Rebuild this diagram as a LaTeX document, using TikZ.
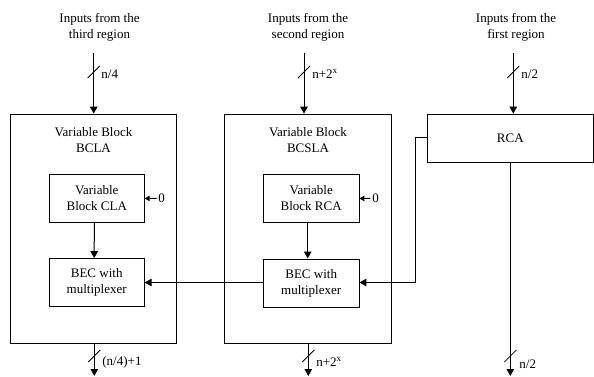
\documentclass[tikz,border=0pt]{standalone}
\usepackage{fontspec}
\setmainfont{Liberation Serif}
\usetikzlibrary{arrows.meta}
\begin{document}
\begin{tikzpicture}[x=1pt,y=-1pt,
  line width=0.8pt,
  every node/.style={font=\fontsize{13}{16}\selectfont},
  blk/.style={draw,line width=0.8pt,inner sep=0pt,align=center},
  txt/.style={align=center,inner sep=0pt},
  arr/.style={line width=1pt,-{Triangle[length=7pt,width=7.5pt]}},
  sarr/.style={line width=1pt,-{Triangle[length=5pt,width=5.5pt]}},
  bus/.style={inner sep=0pt,anchor=west}
]
\useasboundingbox (0,0) rectangle (594,376);
% outer boxes
\node[blk,minimum width=166pt,minimum height=229pt] (outL) at (93.7,228.5) {};
\node[blk,minimum width=167.4pt,minimum height=229pt] (outM) at (308,228.5) {};
\node[blk,minimum width=166pt,minimum height=48.3pt] (rca) at (510.3,138.2) {RCA};
% outer box titles
\node[txt] (tL) at (93.5,139.7) {Variable Block\\BCLA};
\node[txt] (tM) at (308,139.7) {Variable Block\\BCSLA};
% inner boxes
\node[blk,minimum width=95pt,minimum height=48.4pt] (cla) at (96.8,198.5) {Variable\\Block CLA};
\node[blk,minimum width=95.7pt,minimum height=48.4pt] (rcai) at (311.2,198.5) {Variable\\Block RCA};
\node[blk,minimum width=95pt,minimum height=48.2pt] (becL) at (96.7,282.6) {BEC with\\multiplexer};
\node[blk,minimum width=95.7pt,minimum height=48.2pt] (becM) at (311.2,283) {BEC with\\multiplexer};
% zero inputs
\node[txt] (z1) at (161.7,198.3) {0};
\node[txt] (z2) at (375.5,198.3) {0};
\draw[sarr] (z1.west) ++(-1.5,0) -- (cla.east);
\draw[sarr] (z2.west) ++(-1.5,0) -- (rcai.east);
% inner vertical arrows
\draw[arr] ([xshift=-2.5pt]cla.south) -- ([xshift=-2.5pt]becL.north);
\draw[arr] ([xshift=-3.5pt]rcai.south) -- ([xshift=-3.5pt]becM.north);
% carry chain
\coordinate (c1) at (415,137);
\coordinate (c2) at (415,282.5);
\draw[arr] (rca.west |- c1) -- (c1) -- (c2) -- (becM.east |- c2);
\draw[arr] (becM.west |- c2) -- (becL.east |- c2);
% top inputs
\node[txt] (in1) at (99.5,27) {Inputs from the\\third region};
\node[txt] (in2) at (308,27) {Inputs from the\\second region};
\node[txt] (in3) at (516,27) {Inputs from the\\first region};
\coordinate (a1) at (93.7,53);
\coordinate (a2) at (304,53);
\coordinate (a3) at (513.3,53);
\draw[arr] (a1) -- (a1 |- outL.north);
\draw[arr] (a2) -- (a2 |- outM.north);
\draw[arr] (a3) -- (a3 |- rca.north);
\draw (87.7,78) -- (99.7,66);
\draw (298,78) -- (310,66);
\draw (507.3,78) -- (519.3,66);
\node[bus] (l1) at (101,74) {n/4};
\node[bus] (l2) at (312,74) {n+2\textsuperscript{x}};
\node[bus] (l3) at (521,74) {n/2};
% bottom outputs
\coordinate (b1) at (94.3,376);
\coordinate (b2) at (308.3,376);
\coordinate (b3) at (510.3,376);
\draw[arr] (b1 |- outL.south) -- (b1);
\draw[arr] (b2 |- outM.south) -- (b2);
\draw[arr] (rca.south) -- (b3);
\draw (88.3,362) -- (100.3,350);
\draw (302.3,362) -- (314.3,350);
\draw (504.3,362) -- (516.3,350);
\node[bus] (o1) at (102,362) {(n/4)+1};
\node[bus] (o2) at (316,362) {n+2\textsuperscript{x}};
\node[bus] (o3) at (519,364) {n/2};
\end{tikzpicture}
\end{document}
